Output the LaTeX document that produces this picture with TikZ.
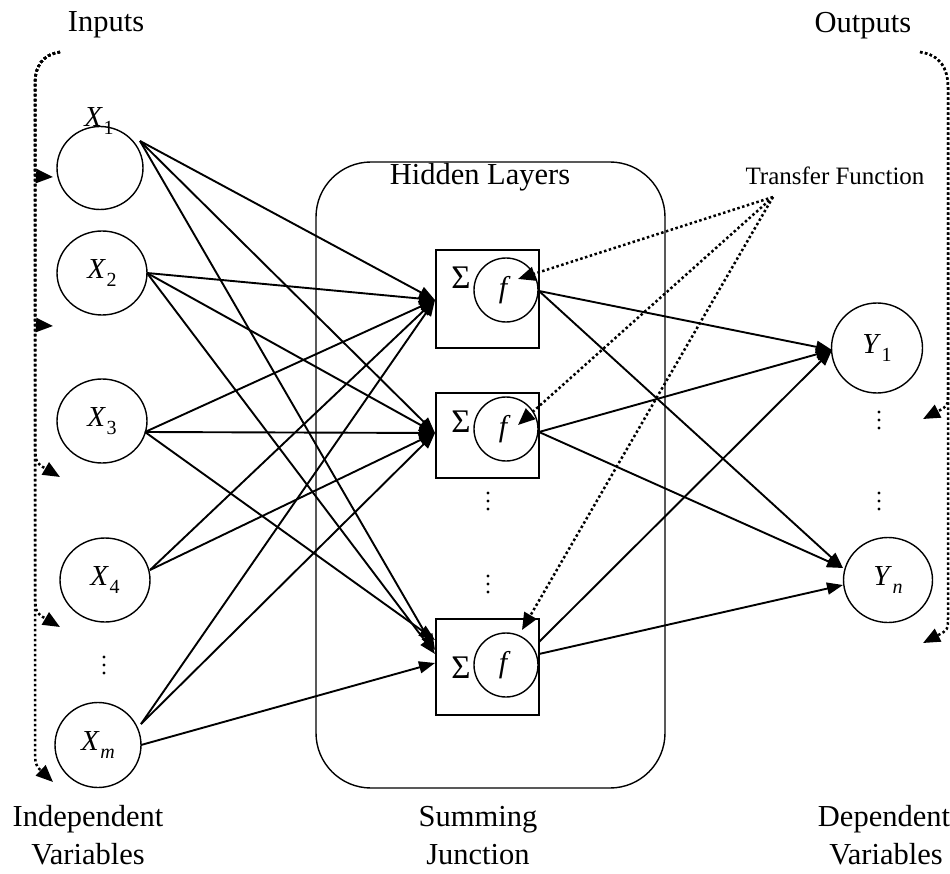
\documentclass[tikz,border=0pt]{standalone}
\usepackage{fontspec}
\setmainfont{Liberation Serif}
\usetikzlibrary{arrows.meta,shapes.geometric}
\newcommand{\nnsub}[2]{\textit{#1}\kern0.5pt\raisebox{-0.3em}{\fontsize{20}{20}\selectfont #2}}
\begin{document}
\begin{tikzpicture}[x=1pt,y=-1pt,
  neuron/.style={draw,ellipse,line width=1.4pt,inner sep=0pt,font=\fontsize{29}{30}\selectfont},
  sumbox/.style={draw,rectangle,line width=1.6pt,minimum width=103pt,inner sep=0pt},
  fcirc/.style={draw,circle,line width=1.4pt,minimum size=64pt,inner sep=0pt,font=\fontsize{30}{30}\selectfont\itshape},
  conn/.style={line width=1.9pt,-{Triangle[length=16pt,width=12pt]}},
  dotarr/.style={line width=2.5pt,dash pattern=on 2.5pt off 2.5pt,-{Triangle[length=17pt,width=14pt]}},
  lbl/.style={font=\fontsize{30.5}{34}\selectfont,anchor=base,inner sep=0pt},
  mlbl/.style={font=\fontsize{29}{30}\selectfont,inner sep=0pt},
  sig/.style={font=\fontsize{33}{33}\selectfont,inner sep=0pt}
]
\useasboundingbox (0,0) rectangle (950,874);

% texts
\node[lbl] (tin) at (106,32) {Inputs};
\node[lbl] (tout) at (863,33) {Outputs};
\node[lbl] (thid) at (480,185) {Hidden Layers};
\node[lbl,font=\fontsize{25}{28}\selectfont] (ttf) at (835,185) {Transfer Function};
\node[lbl] (tind1) at (88,826) {Independent};
\node[lbl] (tind2) at (88,864) {Variables};
\node[lbl] (tsum1) at (478,826) {Summing};
\node[lbl] (tsum2) at (478,864) {Junction};
\node[lbl] (tdep1) at (884,826) {Dependent};
\node[lbl] (tdep2) at (886,864) {Variables};

% hidden layer frame
\node[draw,line width=1.4pt,rounded corners=55pt,minimum width=349pt,minimum height=626pt] (hid) at (490.5,475) {};

% input neurons
\node[neuron,minimum width=86pt,minimum height=83pt] (x1) at (100,168) {};
\node[mlbl] (x1l) at (99,121) {\nnsub{X}{1}};
\node[neuron,minimum width=90pt,minimum height=84pt] (x2) at (102,273) {\nnsub{X}{2}};
\node[neuron,minimum width=90pt,minimum height=84pt] (x3) at (102,421) {\nnsub{X}{3}};
\node[neuron,minimum width=90pt,minimum height=84pt] (x4) at (105,580) {\nnsub{X}{4}};
\node[neuron,minimum width=86pt,minimum height=85pt] (xm) at (98,745) {\nnsub{X}{\textit{m}}};

% output neurons
\node[neuron,minimum width=91pt,minimum height=90pt] (y1) at (877,348) {\nnsub{Y}{1}};
\node[neuron,minimum width=89pt,minimum height=85pt] (yn) at (888,580) {\nnsub{Y}{\textit{n}}};

% summing boxes
\node[sumbox,minimum height=98pt] (b1) at (487.5,299) {};
\node[sumbox,minimum height=85pt] (b2) at (487.5,435.5) {};
\node[sumbox,minimum height=96pt] (b3) at (487.5,667) {};
\node[sig] (s1) at (461,278) {Σ};
\node[sig] (s2) at (461,422) {Σ};
\node[sig] (s3) at (461,668) {Σ};
\node[fcirc] (c1) at (506,290) {f\kern6pt};
\node[fcirc] (c2) at (506,429) {f\kern6pt};
\node[fcirc] (c3) at (506,665) {f\kern6pt};

% vertical dots
\foreach \px/\py in {104/665, 488/501, 488/584, 879/420, 879/501}{
  \fill (\px,\py-8) circle (1.7pt) (\px,\py) circle (1.7pt) (\px,\py+8) circle (1.7pt);
}

% connector end points
\coordinate (x1o) at (140,141);
\coordinate (x2o) at (147,273);
\coordinate (x3o) at (145,432);
\coordinate (x4o) at (150,570);
\coordinate (xmo) at (141,724);
\coordinate (xmo2) at (141,745);
\coordinate (b1i) at (435,300);
\coordinate (b2i) at (435,433);
\coordinate (b3ia) at (435,640);
\coordinate (b3ib) at (435,650);
\coordinate (b3ic) at (435,654);
\coordinate (b3id) at (435,663);
\coordinate (b1o) at (539,291);
\coordinate (b2o) at (539,432);
\coordinate (b3o) at (539,642);
\coordinate (b3o2) at (539,654);
\coordinate (y1i) at (832,350);
\coordinate (yni) at (843,568);
\coordinate (yni2) at (843,585);

% input -> hidden
\draw[conn] (x1o) -- (b1i);
\draw[conn] (x1o) -- (b2i);
\draw[conn] (x1o) -- (b3ib);
\draw[conn] (x2o) -- (b1i);
\draw[conn] (x2o) -- (b2i);
\draw[conn] (x2o) -- (b3ic);
\draw[conn] (x3o) -- (b1i);
\draw[conn] (x3o) -- (b2i);
\draw[conn] (x3o) -- (b3ia);
\draw[conn] (x4o) -- (b1i);
\draw[conn] (x4o) -- (b2i);
\draw[conn] (xmo) -- (b1i);
\draw[conn] (xmo) -- (b2i);
\draw[conn] (xmo2) -- (b3id);

% hidden -> output
\draw[conn] (b1o) -- (y1i);
\draw[conn] (b1o) -- (yni);
\draw[conn] (b2o) -- (y1i);
\draw[conn] (b2o) -- (yni);
\draw[conn] (b3o) -- (y1i);
\draw[conn] (b3o2) -- (yni2);

% transfer function pointers
\coordinate (tf) at (773,197);
\coordinate (tf1) at (518,279);
\coordinate (tf2) at (518,425);
\coordinate (tf3) at (522,630);
\draw[dotarr] (tf) -- (tf1);
\draw[dotarr] (tf) -- (tf2);
\draw[dotarr] (tf) -- (tf3);

% left brace of inputs
\coordinate (lt) at (60,52);
\coordinate (la1) at (53,177);
\coordinate (la2) at (53,326);
\coordinate (la3) at (60,477);
\coordinate (la4) at (60,627);
\coordinate (la5) at (53,782);
\draw[dotarr] (lt) .. controls (42,55) and (35,66) .. (35,85) -- (35,162) .. controls (35,176) .. (la1);
\draw[dotarr] (lt) .. controls (42,55) and (35,66) .. (35,85) -- (35,311) .. controls (35,325) .. (la2);
\draw[dotarr] (lt) .. controls (42,55) and (35,66) .. (35,85) -- (35,447) .. controls (36,463) .. (la3);
\draw[dotarr] (lt) .. controls (42,55) and (35,66) .. (35,85) -- (35,597) .. controls (36,613) .. (la4);
\draw[dotarr] (lt) .. controls (42,55) and (35,66) .. (35,85) -- (35,742) .. controls (35,765) .. (la5);

% right brace of outputs
\coordinate (rt) at (920,52);
\coordinate (ra1) at (923,419);
\coordinate (ra2) at (923,643);
\draw[dotarr] (rt) .. controls (940,55) and (948,68) .. (948,88) -- (948,392) .. controls (948,406) .. (ra1);
\draw[dotarr] (rt) .. controls (940,55) and (948,68) .. (948,88) -- (948,616) .. controls (948,630) .. (ra2);
\end{tikzpicture}
\end{document}
